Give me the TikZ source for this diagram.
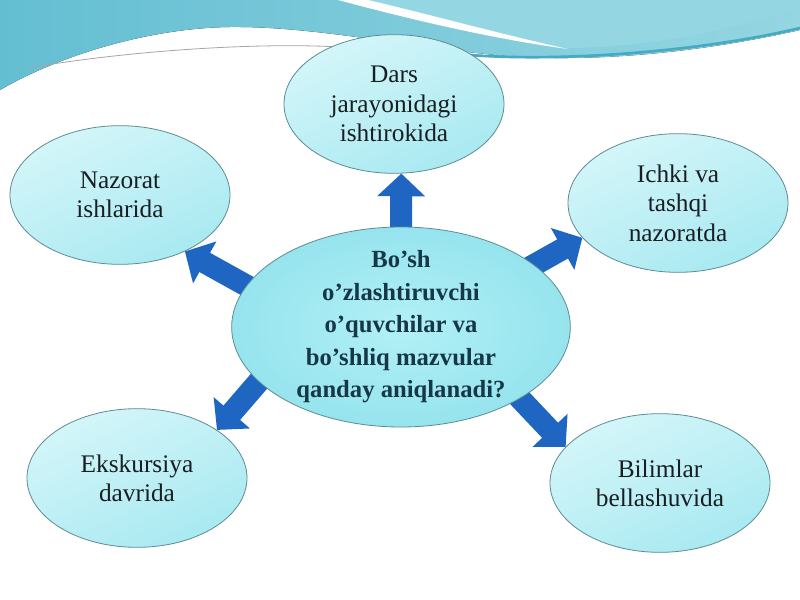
\documentclass[tikz,border=0pt]{standalone}
\usepackage{fontspec}
\setmainfont{Liberation Serif}
\usetikzlibrary{shapes.geometric,arrows.meta}
\pgfdeclarelayer{back}
\pgfdeclarelayer{arrowlayer}
\pgfsetlayers{back,arrowlayer,main}
\definecolor{arrowblue}{RGB}{30,102,194}
\definecolor{leafrim}{RGB}{95,140,145}
\definecolor{leaftop}{RGB}{212,246,249}
\definecolor{leafbottom}{RGB}{168,233,241}
\definecolor{leaftext}{RGB}{25,30,35}
\definecolor{hubinner}{RGB}{178,240,246}
\definecolor{hubouter}{RGB}{150,228,238}
\definecolor{hubtext}{RGB}{22,55,70}
\definecolor{wavedark}{RGB}{100,190,210}
\definecolor{wavelight}{RGB}{148,214,226}
\definecolor{waveedge}{RGB}{70,170,195}

\begin{document}
\begin{tikzpicture}[x=0.75pt,y=-0.75pt,
    leaf/.style={ellipse, draw=leafrim, line width=0.6pt, inner sep=0pt,
      minimum width=165pt, minimum height=104pt, align=center,
      top color=leaftop, bottom color=leafbottom,
      shading angle=25, text=leaftext,
      font=\fontsize{19}{22}\selectfont},
    hub/.style={ellipse, draw=leafrim, line width=0.6pt, inner sep=-12pt,
      minimum width=254pt, minimum height=150pt, align=center,
      inner color=hubinner, outer color=hubouter,
      text=hubtext, font=\fontsize{18.5}{24.4}\selectfont\bfseries},
    blockarrow/.style={draw=arrowblue, line width=16.5pt, shorten <=-4pt,
      -{Triangle[length=17pt,width=35pt]}}]

  \useasboundingbox (0,0) rectangle (800,600);

  % background and top wave
  \begin{pgfonlayer}{back}
    \fill[white] (0,0) rectangle (800,600);
    \fill[left color=wavedark, right color=wavelight]
      (0,0) -- (0,90) .. controls (60,55) and (150,28) .. (230,27)
      .. controls (320,26) and (420,50) .. (520,57)
      .. controls (620,62) and (720,48) .. (800,30) -- (800,0) -- cycle;
    \fill[wavelight] (345,0) .. controls (420,20) and (500,40) .. (565,48)
      .. controls (650,48) and (740,28) .. (800,8) -- (800,0) -- cycle;
    \fill[white] (338,0) .. controls (420,22) and (500,40) .. (568,49)
      .. controls (500,34) and (420,12) .. (368,0) -- cycle;
    \draw[waveedge, line width=2pt]
      (470,55) .. controls (560,62) and (700,52) .. (800,28);
    \draw[gray!70, line width=0.6pt]
      (28,68) .. controls (120,52) and (250,42) .. (340,47);
  \end{pgfonlayer}

  % ellipses
  \node[hub] (hub) at (401,327)
    {Bo’sh\\o’zlashtiruvchi\\o’quvchilar va\\bo’shliq mazvular\\qanday aniqlanadi?};
  \node[leaf] (dars) at (394,104) {Dars\\jarayonidagi\\ishtirokida};
  \node[leaf] (nazorat) at (120,195) {Nazorat\\ishlarida};
  \node[leaf] (ichki) at (678,203) {Ichki va\\tashqi\\nazoratda};
  \node[leaf] (ekskursiya) at (137,478) {Ekskursiya\\davrida};
  \node[leaf] (bilimlar) at (660,483) {Bilimlar\\bellashuvida};

  % arrows
  \begin{pgfonlayer}{arrowlayer}
    \draw[blockarrow] (hub.90) -- (dars.-84);
    \draw[blockarrow] (hub.165) -- (nazorat.-41);
    \draw[blockarrow] (hub.25) -- (ichki.-160);
    \draw[blockarrow] (hub.201) -- (ekskursiya.31);
    \draw[blockarrow] (hub.-31) -- (bilimlar.159);
  \end{pgfonlayer}
\end{tikzpicture}
\end{document}
